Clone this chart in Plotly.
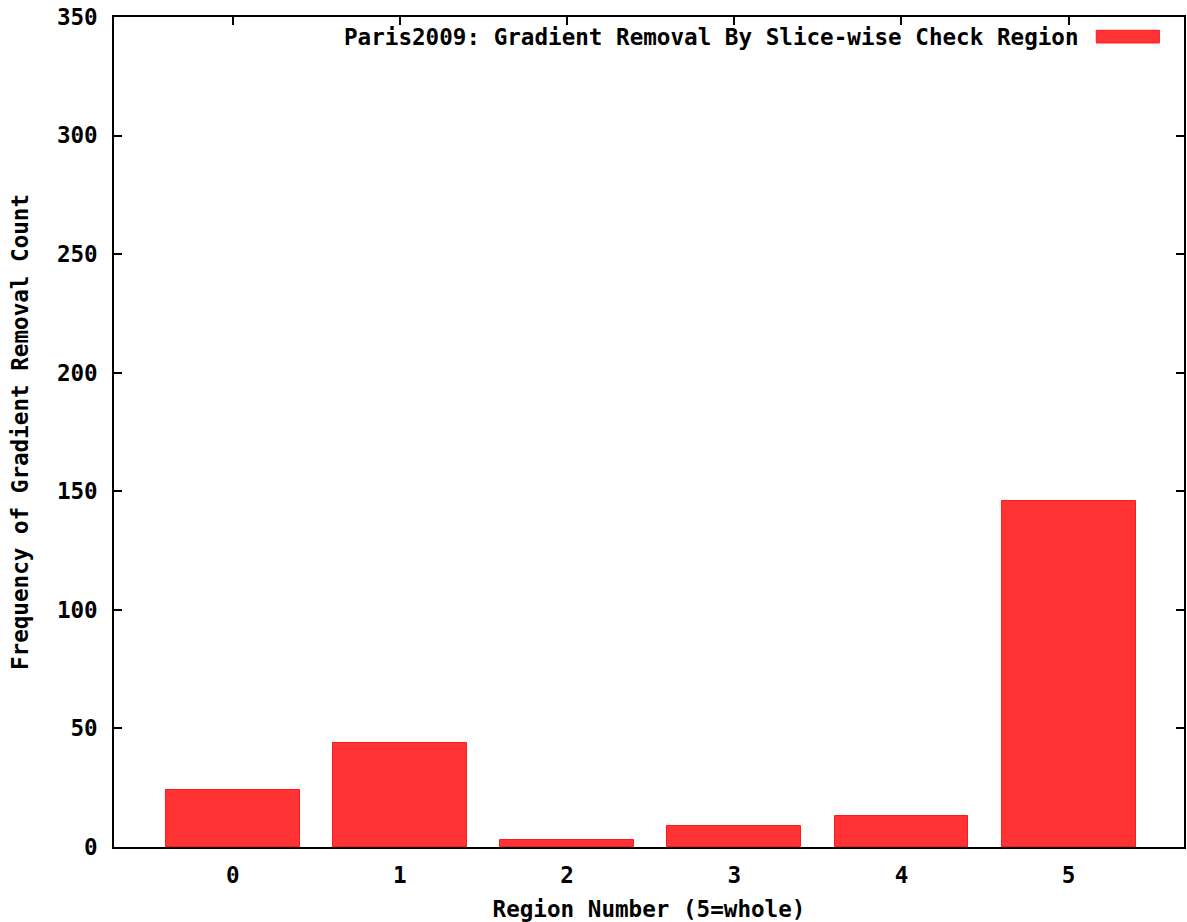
import plotly.graph_objects as go

regions = ["0", "1", "2", "3", "4", "5"]
counts = [24, 44, 3, 9, 13, 146]
series_name = "Paris2009: Gradient Removal By Slice-wise Check Region"
x_title = "Region Number (5=whole)"
y_title = "Frequency of Gradient Removal Count"
y_ticks = [0, 50, 100, 150, 200, 250, 300, 350]

FILL = "#ff3333"
EDGE = "#ff1a1a"
FONT = dict(family="DejaVu Sans Mono", size=22.6, color="black", weight="bold")

x_vals = [int(r) for r in regions]

fig = go.Figure()
fig.add_trace(go.Bar(
    x=x_vals, y=counts, name=series_name, width=0.8,
    marker=dict(color=FILL, line=dict(color=EDGE, width=1)),
    showlegend=False,
))

fig.update_layout(
    width=1187, height=922,
    margin=dict(l=114, r=1, t=17, b=75),
    paper_bgcolor="white", plot_bgcolor="white",
    font=FONT,
    bargap=0,
)
fig.update_xaxes(
    range=[-0.71, 5.69], tickvals=x_vals, ticktext=regions,
    showline=True, linecolor="black", linewidth=1.5, mirror="ticks",
    ticks="inside", ticklen=8, tickcolor="black", tickwidth=1.5,
    showgrid=False, zeroline=False, layer="below traces",
    ticklabelstandoff=7,
    title=dict(text=x_title, standoff=16, font=FONT),
)
fig.update_yaxes(
    range=[0, 350], tickvals=y_ticks,
    showline=True, linecolor="black", linewidth=1.5, mirror="ticks",
    ticks="inside", ticklen=8, tickcolor="black", tickwidth=1.5,
    showgrid=False, zeroline=False, layer="below traces",
    ticklabelstandoff=10,
    title=dict(text=y_title, standoff=22, font=FONT),
)

# legend drawn in gnuplot style (text then swatch on the right)
fig.add_annotation(
    xref="paper", yref="paper", x=0.904, y=0.976,
    xanchor="right", yanchor="middle", text=series_name,
    showarrow=False, font=FONT,
)
fig.add_shape(
    type="rect", xref="paper", yref="paper",
    x0=0.918, x1=0.977, y0=0.9687, y1=0.984,
    fillcolor=FILL, line=dict(color=EDGE, width=1),
)

fig.write_html(
    "out.html",
    config={"displayModeBar": False},
    post_script="document.body.style.margin='0';document.body.style.overflow='hidden';",
)
